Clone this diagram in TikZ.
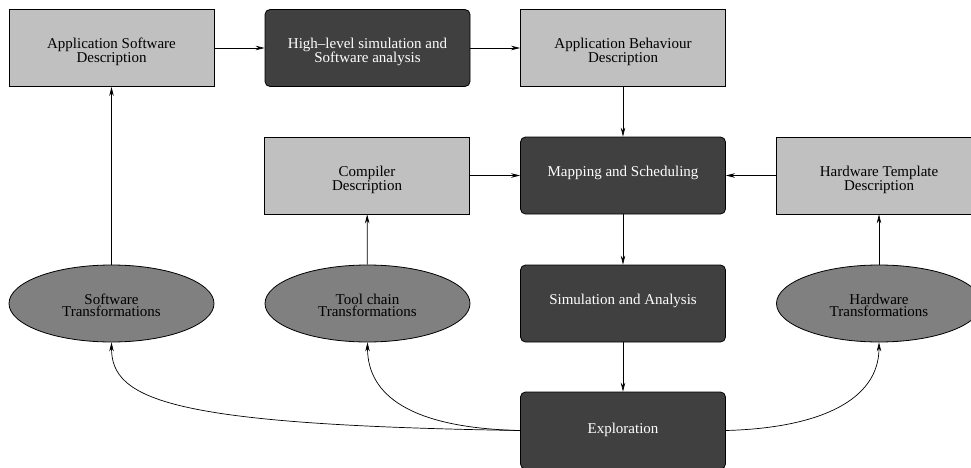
\documentclass[tikz,border=0pt]{standalone}
\usepackage{fontspec}
\setmainfont{Liberation Serif}
\usetikzlibrary{shapes.geometric,arrows.meta}
\definecolor{lgray}{HTML}{C0C0C0}
\definecolor{mgray}{HTML}{808080}
\definecolor{dgray}{HTML}{404040}
\begin{document}
\begin{tikzpicture}[x=1pt,y=-1pt,
  basebox/.style={draw=black, line width=0.8pt, minimum width=205pt, minimum height=77pt,
    inner sep=0pt},
  lightbox/.style={basebox, fill=lgray},
  darkbox/.style={basebox, fill=dgray, rounded corners=5pt},
  transbox/.style={basebox, ellipse, fill=mgray},
  txt/.style={inner sep=0pt, align=center, font=\fontsize{15}{12.2}\selectfont, text=black},
  wtxt/.style={txt, text=white},
  conn/.style={-{Stealth[length=9pt,width=4.5pt]}, line width=0.7pt},
]
\clip (0,0) rectangle (971,468);
\fill[white] (0,0) rectangle (971,468);

\node[lightbox] (appsw)  at (111.5,48)  {};
\node[darkbox]  (hl)     at (367.5,48)  {};
\node[lightbox] (appbeh) at (623,48)    {};
\node[lightbox] (comp)   at (367,175.5) {};
\node[darkbox]  (map)    at (623,175.5) {};
\node[lightbox] (hwt)    at (879,175.5) {};
\node[darkbox]  (sim)    at (623,303.5) {};
\node[darkbox]  (expl)   at (623,430.5) {};
\node[transbox] (swt)    at (111.5,303.5) {};
\node[transbox] (tct)    at (367.5,303.5) {};
\node[transbox] (hwtr)   at (879,303.5) {};

\node[txt]  (appswT)  at ([yshift=-4pt]appsw.center)  {Application Software\\Description};
\node[wtxt] (hlT)     at ([yshift=-4pt]hl.center)     {High--level simulation and\\Software analysis};
\node[txt]  (appbehT) at ([yshift=-4pt]appbeh.center) {Application Behaviour\\Description};
\node[txt]  (compT)   at ([yshift=-4pt]comp.center)   {Compiler\\Description};
\node[wtxt] (mapT)    at ([yshift=2.5pt]map.center)   {Mapping and Scheduling};
\node[txt]  (hwtT)    at ([yshift=-4pt]hwt.center)    {Hardware Template\\Description};
\node[wtxt] (simT)    at ([yshift=2.5pt]sim.center)   {Simulation and Analysis};
\node[wtxt] (explT)   at ([yshift=1pt]expl.center)    {Exploration};
\node[txt]  (swtT)    at ([yshift=-2pt]swt.center)    {Software\\Transformations};
\node[txt]  (tctT)    at ([yshift=-2pt]tct.center)    {Tool chain\\Transformations};
\node[txt]  (hwtrT)   at ([yshift=-2pt]hwtr.center)   {Hardware\\Transformations};

\draw[conn] (appsw) -- (hl);
\draw[conn] (hl) -- (appbeh);
\draw[conn] (appbeh) -- (map);
\draw[conn] (comp) -- (map);
\draw[conn] (hwt) -- (map);
\draw[conn] (map) -- (sim);
\draw[conn] (sim) -- (expl);
\draw[conn] (swt) -- (appsw);
\draw[conn] (tct) -- (comp);
\draw[conn] (hwtr) -- (hwt);

\draw[conn] (expl.west) .. controls (170,425) and (111.5,400) .. (swt.south);
\draw[conn] (expl.west) .. controls (410,428) and (367.5,395) .. (tct.south);
\draw[conn] (expl.east) .. controls (820,428) and (879,400) .. (hwtr.south);
\end{tikzpicture}
\end{document}
